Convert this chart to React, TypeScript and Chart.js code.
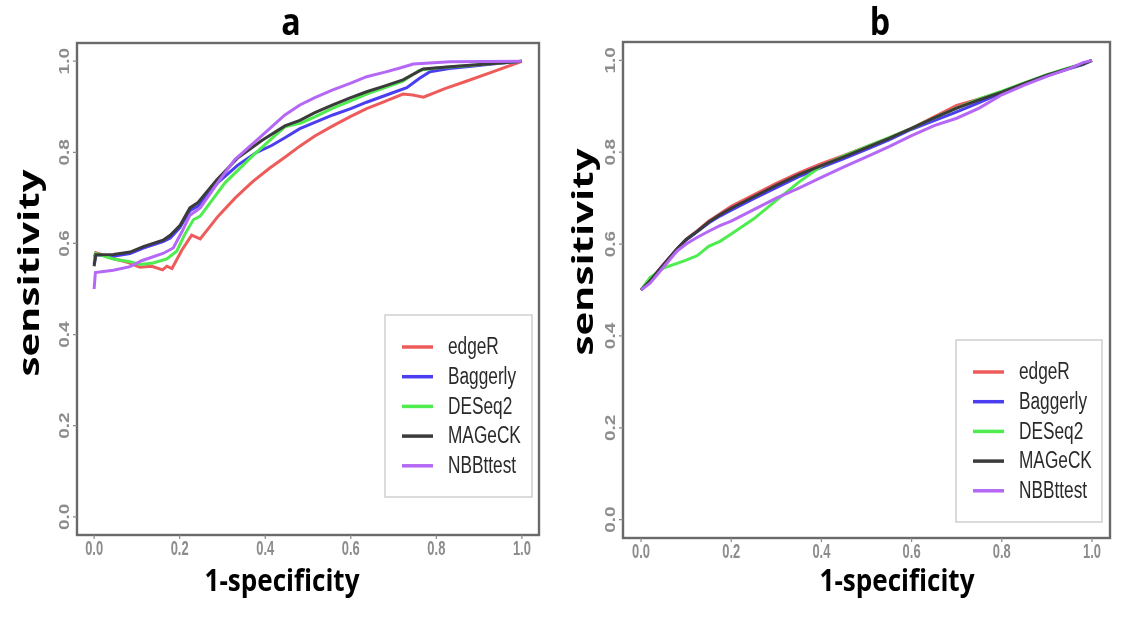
import React, { useEffect, useRef } from "react";
import { Chart, registerables } from "chart.js";

Chart.register(...registerables);

// ---------- labels ----------
const SERIES = ["edgeR", "Baggerly", "DESeq2", "MAGeCK", "NBBttest"];
const COLORS = ["#ee5b5b", "#4b3df0", "#4fec4f", "#3b3b3b", "#b468f5"];
const TICKS = [0, 0.2, 0.4, 0.6, 0.8, 1.0];
const TICK_LABELS = ["0.0", "0.2", "0.4", "0.6", "0.8", "1.0"];
const TITLES = ["a", "b"];
const X_TITLE = "1-specificity";
const Y_TITLE = "sensitivity";

// ---------- panel a: [1-specificity, sensitivity] ----------
const A_EDGER = [[0,0.57],[0.004,0.58],[0.04,0.568],[0.08,0.558],[0.107,0.548],[0.135,0.55],[0.16,0.542],[0.17,0.55],[0.182,0.545],[0.205,0.585],[0.228,0.618],[0.248,0.61],[0.29,0.66],[0.33,0.7],[0.37,0.735],[0.41,0.765],[0.45,0.792],[0.48,0.813],[0.516,0.836],[0.558,0.858],[0.6,0.879],[0.637,0.896],[0.68,0.912],[0.722,0.928],[0.745,0.926],[0.77,0.921],[0.82,0.94],[0.87,0.956],[0.93,0.976],[1,1]];
const A_BAGGERLY = [[0,0.555],[0.004,0.575],[0.045,0.572],[0.084,0.578],[0.115,0.59],[0.161,0.604],[0.178,0.612],[0.2,0.634],[0.224,0.672],[0.243,0.682],[0.29,0.734],[0.336,0.772],[0.38,0.8],[0.415,0.815],[0.446,0.832],[0.481,0.852],[0.516,0.866],[0.558,0.882],[0.6,0.896],[0.637,0.91],[0.69,0.928],[0.731,0.942],[0.76,0.962],[0.785,0.977],[0.83,0.984],[0.871,0.988],[0.93,0.994],[1,1]];
const A_DESEQ2 = [[0,0.56],[0.004,0.578],[0.045,0.566],[0.084,0.56],[0.107,0.554],[0.138,0.557],[0.17,0.566],[0.193,0.583],[0.212,0.62],[0.232,0.652],[0.248,0.66],[0.306,0.733],[0.368,0.79],[0.415,0.83],[0.446,0.856],[0.485,0.865],[0.516,0.878],[0.558,0.897],[0.6,0.913],[0.637,0.928],[0.68,0.942],[0.722,0.956],[0.76,0.98],[0.8,0.985],[0.871,0.99],[0.93,0.995],[1,1]];
const A_MAGECK = [[0,0.55],[0.004,0.575],[0.045,0.576],[0.084,0.581],[0.115,0.593],[0.161,0.607],[0.178,0.618],[0.201,0.64],[0.224,0.678],[0.243,0.69],[0.287,0.74],[0.336,0.788],[0.392,0.826],[0.446,0.858],[0.481,0.87],[0.516,0.887],[0.558,0.904],[0.6,0.92],[0.637,0.933],[0.68,0.946],[0.722,0.959],[0.769,0.983],[0.832,0.988],[0.949,0.996],[1,1]];
const A_NBBTTEST = [[0,0.5],[0.003,0.536],[0.045,0.541],[0.084,0.549],[0.111,0.562],[0.161,0.578],[0.185,0.59],[0.205,0.625],[0.224,0.662],[0.248,0.678],[0.294,0.74],[0.329,0.784],[0.383,0.829],[0.446,0.882],[0.481,0.904],[0.516,0.92],[0.558,0.937],[0.6,0.952],[0.637,0.966],[0.68,0.976],[0.715,0.985],[0.746,0.994],[0.832,0.999],[1,1]];

// ---------- panel b ----------
const B_FPR = [0,0.02,0.05,0.08,0.1,0.125,0.15,0.175,0.2,0.25,0.3,0.35,0.4,0.45,0.5,0.55,0.6,0.65,0.7,0.75,0.8,0.85,0.9,0.95,0.98,1];
const B_EDGER = [0.5,0.52,0.556,0.59,0.61,0.629,0.65,0.666,0.682,0.707,0.732,0.755,0.775,0.793,0.812,0.831,0.852,0.877,0.902,0.916,0.931,0.95,0.968,0.983,0.992,1];
const B_BAGGERLY = [0.5,0.52,0.555,0.589,0.609,0.627,0.646,0.661,0.674,0.699,0.723,0.747,0.767,0.786,0.806,0.827,0.85,0.869,0.888,0.908,0.929,0.949,0.967,0.982,0.991,1];
const B_DESEQ2 = [0.5,0.527,0.548,0.558,0.565,0.575,0.595,0.606,0.622,0.655,0.695,0.735,0.77,0.792,0.812,0.832,0.852,0.875,0.896,0.916,0.933,0.951,0.969,0.984,0.992,1];
const B_MAGECK = [0.5,0.52,0.555,0.59,0.61,0.628,0.648,0.664,0.678,0.703,0.728,0.751,0.771,0.79,0.81,0.83,0.852,0.875,0.896,0.914,0.931,0.95,0.968,0.983,0.992,1];
const B_NBBTTEST = [0.5,0.515,0.55,0.585,0.6,0.615,0.628,0.64,0.65,0.675,0.7,0.722,0.745,0.768,0.79,0.812,0.836,0.858,0.874,0.896,0.925,0.946,0.965,0.982,0.995,1];

const A_SERIES = [A_EDGER, A_BAGGERLY, A_DESEQ2, A_MAGECK, A_NBBTTEST];
const B_SERIES = [B_EDGER, B_BAGGERLY, B_DESEQ2, B_MAGECK, B_NBBTTEST];

// ---------- layout (page pixels) ----------
const PANEL_LAYOUT = [
  {
    padding: { left: 77, top: 43, right: 1144 - 539, bottom: 631 - 535 },
    title: { x: 291, y: 35 },
    xTitle: { x: 282, y: 582 },
    yTitle: { x: 31, y: 273 },
    legend: { x: 385, y: 315, w: 147, h: 182 },
  },
  {
    padding: { left: 623, top: 42, right: 1144 - 1110, bottom: 631 - 538 },
    title: { x: 880, y: 35 },
    xTitle: { x: 897, y: 582 },
    yTitle: { x: 585, y: 252 },
    legend: { x: 956, y: 340, w: 146, h: 182 },
  },
];

function drawText(
  ctx: CanvasRenderingContext2D,
  s: string,
  x: number,
  y: number,
  font: string,
  color: string,
  sx: number,
  sy: number,
  rot: number,
  align: CanvasTextAlign = "center",
  baseline: CanvasTextBaseline = "middle"
) {
  ctx.save();
  ctx.translate(x, y);
  if (rot) ctx.rotate(rot);
  ctx.scale(sx, sy);
  ctx.font = font;
  ctx.fillStyle = color;
  ctx.textAlign = align;
  ctx.textBaseline = baseline;
  ctx.fillText(s, 0, 0);
  ctx.restore();
}

function fitScale(ctx: CanvasRenderingContext2D, s: string, font: string, target: number) {
  ctx.save();
  ctx.font = font;
  const w = ctx.measureText(s).width;
  ctx.restore();
  return w > 0 ? target / w : 1;
}

const decor = {
  id: "decor",
  afterDraw(chart: any, _args: any, opts: any) {
    const { ctx, chartArea: ca, scales } = chart;
    const xs = scales.x;
    const ys = scales.y;
    ctx.save();
    // frame
    ctx.strokeStyle = "#6a6a6a";
    ctx.lineWidth = 2.4;
    ctx.strokeRect(ca.left, ca.top, ca.right - ca.left, ca.bottom - ca.top);
    // ticks & tick labels
    const tickFont = "bold 19px 'Liberation Sans', Arial, sans-serif";
    TICKS.forEach((v, i) => {
      const px = xs.getPixelForValue(v);
      const py = ys.getPixelForValue(v);
      ctx.strokeStyle = "#8a8a8a";
      ctx.lineWidth = 1.2;
      ctx.beginPath();
      ctx.moveTo(px, ca.bottom);
      ctx.lineTo(px, ca.bottom + 4);
      ctx.moveTo(ca.left, py);
      ctx.lineTo(ca.left - 4, py);
      ctx.stroke();
      drawText(ctx, TICK_LABELS[i], px, ca.bottom + 15, tickFont, "#8c8c8c", 0.68, 1.05, 0);
      drawText(ctx, TICK_LABELS[i], ca.left - 12, py, tickFont, "#8c8c8c", 1, 0.8, -Math.PI / 2);
    });
    // titles
    drawText(ctx, opts.title, opts.layout.title.x, opts.layout.title.y, "bold 38px 'Open Sans', sans-serif", "#000", 0.85, 1, 0, "center", "alphabetic");
    const xf = "bold 30px 'Open Sans', sans-serif";
    drawText(ctx, X_TITLE, opts.layout.xTitle.x, opts.layout.xTitle.y, xf, "#000", fitScale(ctx, X_TITLE, xf, 155), 1, 0);
    const yf = "bold 33px 'Open Sans', sans-serif";
    drawText(ctx, Y_TITLE, opts.layout.yTitle.x, opts.layout.yTitle.y, yf, "#000", fitScale(ctx, Y_TITLE, yf, 207), 0.88, -Math.PI / 2);
    // legend
    const lg = opts.layout.legend;
    ctx.fillStyle = "#ffffff";
    ctx.fillRect(lg.x, lg.y, lg.w, lg.h);
    ctx.strokeStyle = "#cfcfcf";
    ctx.lineWidth = 1.5;
    ctx.strokeRect(lg.x, lg.y, lg.w, lg.h);
    chart.data.datasets.forEach((ds: any, i: number) => {
      const y = lg.y + 32 + i * 29.7;
      ctx.strokeStyle = ds.borderColor;
      ctx.lineWidth = 3.5;
      ctx.beginPath();
      ctx.moveTo(lg.x + 17, y);
      ctx.lineTo(lg.x + 48, y);
      ctx.stroke();
      drawText(ctx, ds.label, lg.x + 63, y + 1, "23px 'Liberation Sans', Arial, sans-serif", "#2a2a2a", 0.75, 1, 0, "left", "middle");
    });
    ctx.restore();
  },
};

function buildDatasets(panel: number) {
  return SERIES.map((name, i) => {
    const data =
      panel === 0
        ? A_SERIES[i].map((p) => ({ x: p[0], y: p[1] }))
        : B_SERIES[i].map((v, j) => ({ x: B_FPR[j], y: v }));
    return {
      label: name,
      data,
      borderColor: COLORS[i],
      backgroundColor: COLORS[i],
      borderWidth: 3,
      pointRadius: 0,
      showLine: true,
      tension: 0,
      order: SERIES.length - 1 - i,
    };
  });
}

function Panel({ index }: { index: number }) {
  const ref = useRef<HTMLCanvasElement | null>(null);
  useEffect(() => {
    if (!ref.current) return;
    const layout = PANEL_LAYOUT[index];
    const chart = new Chart(ref.current, {
      type: "scatter",
      data: { datasets: buildDatasets(index) as any },
      options: {
        animation: false,
        responsive: false,
        maintainAspectRatio: false,
        devicePixelRatio: 1,
        layout: { padding: layout.padding },
        scales: {
          x: { type: "linear", min: -0.04, max: 1.04, display: false },
          y: { type: "linear", min: -0.04, max: 1.04, display: false },
        },
        plugins: {
          legend: { display: false },
          tooltip: { enabled: false },
          title: { display: false },
          decor: { title: TITLES[index], layout },
        } as any,
      },
      plugins: [decor as any],
    });
    return () => chart.destroy();
  }, [index]);
  return (
    <canvas
      ref={ref}
      width={1144}
      height={631}
      style={{ position: "absolute", left: 0, top: 0, width: 1144, height: 631 }}
    />
  );
}

export default function App() {
  return (
    <div style={{ position: "fixed", left: 0, top: 0, width: 1144, height: 631, background: "#fff" }}>
      <Panel index={0} />
      <Panel index={1} />
    </div>
  );
}
